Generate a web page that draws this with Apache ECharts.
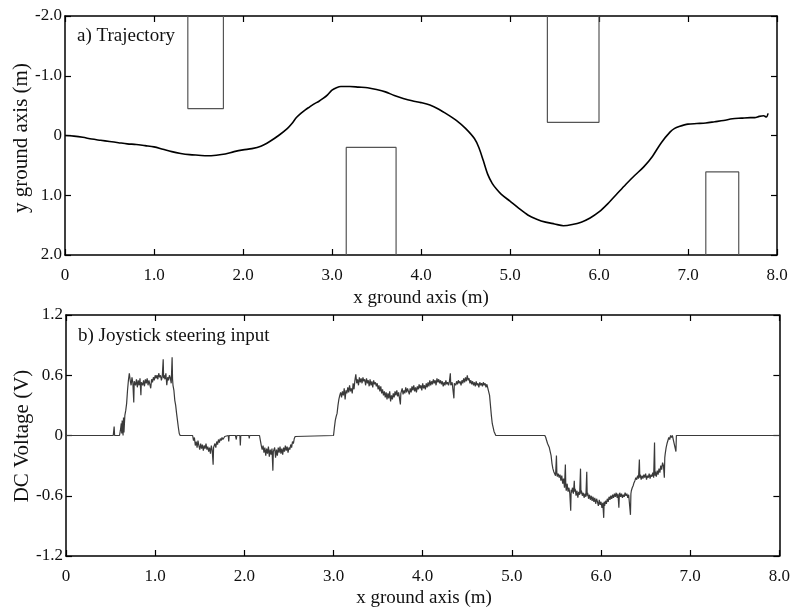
<!DOCTYPE html>
<html>
<head>
<meta charset="utf-8">
<script src="https://cdn.jsdelivr.net/npm/echarts@6/dist/echarts.min.js"></script>
<style>
  html, body { margin: 0; padding: 0; background: #fff; }
  #chart { width: 793px; height: 615px; }
</style>
</head>
<body>
<div id="chart"></div>
<script>
// ---- a) Trajectory: path of the vehicle over the ground (x, y in metres) ----
const trajX = [0, 0.1, 0.2, 0.3, 0.4, 0.5, 0.6, 0.7, 0.8, 0.9, 1.0, 1.1, 1.2, 1.3, 1.4, 1.5, 1.6, 1.7, 1.8, 1.9,
  2.0, 2.1, 2.2, 2.3, 2.4, 2.5, 2.55, 2.6, 2.65, 2.7, 2.75, 2.8, 2.85, 2.9, 2.95, 3.0, 3.05, 3.1, 3.2, 3.3,
  3.4, 3.5, 3.6, 3.7, 3.8, 3.9, 4.0, 4.1, 4.2, 4.3, 4.4, 4.5, 4.6, 4.65, 4.7, 4.75, 4.8, 4.85, 4.9, 5.0,
  5.1, 5.2, 5.3, 5.4, 5.5, 5.6, 5.7, 5.8, 5.9, 6.0, 6.1, 6.2, 6.3, 6.4, 6.5, 6.6, 6.7, 6.8, 6.85, 6.9,
  7.0, 7.1, 7.2, 7.3, 7.4, 7.5, 7.6, 7.7, 7.75, 7.8, 7.85, 7.88, 7.9];
const trajY = [0.0, 0.01, 0.03, 0.06, 0.08, 0.1, 0.12, 0.14, 0.15, 0.17, 0.19, 0.23, 0.27, 0.3, 0.32, 0.33, 0.34, 0.33, 0.31, 0.27,
  0.24, 0.22, 0.18, 0.1, 0.0, -0.12, -0.2, -0.3, -0.37, -0.43, -0.48, -0.53, -0.57, -0.62, -0.68, -0.76, -0.8, -0.82, -0.82, -0.81,
  -0.8, -0.77, -0.73, -0.67, -0.62, -0.58, -0.55, -0.51, -0.44, -0.35, -0.25, -0.12, 0.05, 0.2, 0.42, 0.65, 0.8, 0.9, 0.98, 1.1,
  1.22, 1.33, 1.4, 1.45, 1.48, 1.51, 1.49, 1.45, 1.38, 1.28, 1.14, 0.98, 0.82, 0.67, 0.53, 0.35, 0.12, -0.06, -0.12, -0.15,
  -0.19, -0.2, -0.21, -0.23, -0.25, -0.28, -0.29, -0.3, -0.3, -0.32, -0.33, -0.31, -0.37];

// Obstacles: x extent, and the y edge reaching into the track (each runs to the plot border)
const obstacleX0 = [1.38, 3.16, 5.42, 7.2];
const obstacleX1 = [1.78, 3.72, 6.0, 7.57];
const obstacleEdge = [-0.45, 0.2, -0.22, 0.61];
const obstacleSide = [-2, 2, -2, 2];

// ---- b) Joystick steering input (x in metres, DC voltage in volts) ----
const joystick = [
  [0, 0], [0.53, 0], [0.54, 0.09], [0.545, 0], [0.6, 0],
  [0.61, 0.05], [0.62, 0.12], [0.625, 0.02], [0.63, 0.15], [0.64, 0.0], [0.645, 0.18], [0.65, 0.03], [0.66, 0.2], [0.67, 0.25],
  [0.68, 0.32], [0.69, 0.45], [0.7, 0.55], [0.71, 0.62],
  [0.72, 0.55], [0.73, 0.5], [0.74, 0.58], [0.75, 0.52], [0.76, 0.33], [0.765, 0.54], [0.78, 0.5], [0.79, 0.56], [0.8, 0.48],
  [0.81, 0.55], [0.82, 0.5], [0.83, 0.57], [0.84, 0.4], [0.845, 0.53], [0.86, 0.5], [0.87, 0.55], [0.88, 0.49], [0.89, 0.56],
  [0.9, 0.52], [0.91, 0.57], [0.92, 0.5], [0.93, 0.55], [0.94, 0.51], [0.95, 0.47], [0.96, 0.56], [0.97, 0.53], [0.98, 0.58],
  [0.99, 0.55], [1.0, 0.6], [1.01, 0.57], [1.02, 0.6], [1.03, 0.56], [1.04, 0.62], [1.05, 0.58], [1.06, 0.6], [1.07, 0.55],
  [1.08, 0.59], [1.09, 0.76], [1.095, 0.57], [1.1, 0.6], [1.11, 0.56], [1.12, 0.62], [1.13, 0.5], [1.14, 0.58], [1.15, 0.55],
  [1.16, 0.6], [1.17, 0.57], [1.18, 0.52], [1.19, 0.78], [1.195, 0.56], [1.2, 0.5], [1.21, 0.45], [1.22, 0.35], [1.23, 0.3],
  [1.24, 0.22], [1.25, 0.15], [1.26, 0.08], [1.27, 0.02], [1.28, 0], [1.42, 0],
  [1.43, -0.05], [1.44, -0.02], [1.45, -0.1], [1.46, -0.06], [1.47, -0.12], [1.48, -0.05], [1.49, -0.1], [1.5, -0.14],
  [1.51, -0.08], [1.52, -0.13], [1.53, -0.09], [1.54, -0.15], [1.55, -0.1], [1.56, -0.13], [1.57, -0.08], [1.58, -0.14],
  [1.59, -0.11], [1.6, -0.16], [1.61, -0.12], [1.62, -0.18], [1.63, -0.1], [1.64, -0.15], [1.65, -0.29], [1.655, -0.12],
  [1.67, -0.08], [1.68, -0.12], [1.69, -0.06], [1.7, -0.09], [1.71, -0.04], [1.72, -0.07], [1.73, -0.03], [1.74, -0.05],
  [1.75, -0.02], [1.76, -0.04], [1.78, -0.01], [1.8, 0], [1.82, 0], [1.825, -0.06], [1.83, 0], [1.9, 0], [1.91, -0.04],
  [1.915, 0], [1.95, 0], [1.955, -0.1], [1.96, 0], [2.05, 0], [2.055, -0.03], [2.06, 0], [2.17, 0],
  [2.18, -0.05], [2.19, -0.1], [2.2, -0.14], [2.21, -0.1], [2.22, -0.17], [2.23, -0.12], [2.24, -0.2], [2.25, -0.13],
  [2.26, -0.18], [2.27, -0.11], [2.28, -0.21], [2.29, -0.14], [2.3, -0.19], [2.31, -0.13], [2.32, -0.35], [2.325, -0.16],
  [2.34, -0.12], [2.35, -0.22], [2.36, -0.14], [2.37, -0.2], [2.38, -0.12], [2.39, -0.17], [2.4, -0.11], [2.41, -0.18],
  [2.42, -0.13], [2.43, -0.19], [2.44, -0.12], [2.45, -0.16], [2.46, -0.1], [2.47, -0.15], [2.48, -0.11], [2.49, -0.17],
  [2.5, -0.12], [2.51, -0.14], [2.52, -0.09], [2.53, -0.12], [2.54, -0.06], [2.55, -0.08], [2.56, -0.03], [2.57, -0.01],
  [2.58, 0], [3.0, 0],
  [3.01, 0.08], [3.02, 0.15], [3.03, 0.19], [3.04, 0.22], [3.05, 0.3], [3.06, 0.36], [3.07, 0.4], [3.08, 0.43], [3.09, 0.38],
  [3.1, 0.44], [3.11, 0.4], [3.12, 0.47], [3.13, 0.36], [3.14, 0.45], [3.15, 0.42], [3.16, 0.48], [3.17, 0.43], [3.18, 0.5],
  [3.19, 0.44], [3.2, 0.47], [3.21, 0.42], [3.22, 0.52], [3.23, 0.46], [3.24, 0.55], [3.25, 0.61], [3.26, 0.52], [3.27, 0.56],
  [3.28, 0.5], [3.29, 0.58], [3.3, 0.53], [3.31, 0.57], [3.32, 0.52], [3.33, 0.58], [3.34, 0.54], [3.35, 0.56], [3.36, 0.5],
  [3.37, 0.57], [3.38, 0.52], [3.39, 0.55], [3.4, 0.49], [3.41, 0.56], [3.42, 0.5], [3.43, 0.54], [3.44, 0.48], [3.45, 0.55],
  [3.46, 0.51], [3.47, 0.53], [3.48, 0.49], [3.49, 0.52], [3.5, 0.46], [3.51, 0.5], [3.52, 0.44], [3.53, 0.49], [3.54, 0.42],
  [3.55, 0.46], [3.56, 0.4], [3.57, 0.44], [3.58, 0.38], [3.59, 0.43], [3.6, 0.36], [3.61, 0.42], [3.62, 0.37], [3.63, 0.44],
  [3.64, 0.34], [3.65, 0.4], [3.66, 0.36], [3.67, 0.42], [3.68, 0.38], [3.69, 0.44], [3.7, 0.4], [3.71, 0.45], [3.72, 0.39],
  [3.73, 0.43], [3.74, 0.37], [3.75, 0.31], [3.755, 0.42], [3.77, 0.47], [3.78, 0.41], [3.79, 0.45], [3.8, 0.42], [3.81, 0.48],
  [3.82, 0.43], [3.83, 0.47], [3.84, 0.44], [3.85, 0.41], [3.86, 0.47], [3.87, 0.43], [3.88, 0.49], [3.89, 0.45], [3.9, 0.5],
  [3.91, 0.44], [3.92, 0.48], [3.93, 0.43], [3.94, 0.49], [3.95, 0.46], [3.96, 0.51], [3.97, 0.47], [3.98, 0.5], [3.99, 0.45],
  [4.0, 0.52], [4.01, 0.47], [4.02, 0.5], [4.03, 0.46], [4.04, 0.52], [4.05, 0.48], [4.06, 0.53], [4.07, 0.49], [4.08, 0.55],
  [4.09, 0.5], [4.1, 0.54], [4.11, 0.51], [4.12, 0.56], [4.13, 0.52], [4.14, 0.55], [4.15, 0.5], [4.16, 0.57], [4.17, 0.53],
  [4.18, 0.56], [4.19, 0.52], [4.2, 0.55], [4.21, 0.51], [4.22, 0.54], [4.23, 0.49], [4.24, 0.53], [4.25, 0.5], [4.26, 0.55],
  [4.27, 0.51], [4.28, 0.53], [4.29, 0.5], [4.3, 0.54], [4.31, 0.62], [4.315, 0.5], [4.33, 0.53], [4.35, 0.37], [4.355, 0.52],
  [4.37, 0.5], [4.38, 0.54], [4.39, 0.51], [4.4, 0.55], [4.41, 0.52], [4.42, 0.54], [4.43, 0.5], [4.44, 0.55], [4.45, 0.52],
  [4.46, 0.57], [4.47, 0.53], [4.48, 0.58], [4.49, 0.54], [4.5, 0.6], [4.51, 0.55], [4.52, 0.57], [4.53, 0.52], [4.54, 0.55],
  [4.55, 0.51], [4.56, 0.54], [4.57, 0.5], [4.58, 0.53], [4.59, 0.49], [4.6, 0.54], [4.61, 0.5], [4.62, 0.52], [4.63, 0.48],
  [4.64, 0.53], [4.65, 0.5], [4.66, 0.52], [4.67, 0.49], [4.68, 0.53], [4.69, 0.5], [4.7, 0.52], [4.71, 0.48], [4.72, 0.51],
  [4.73, 0.5], [4.74, 0.52], [4.75, 0.4], [4.76, 0.3], [4.77, 0.2], [4.78, 0.12], [4.79, 0.08], [4.8, 0.04], [4.82, 0],
  [5.37, 0],
  [5.38, -0.02], [5.39, -0.05], [5.4, -0.08], [5.41, -0.07], [5.42, -0.12], [5.43, -0.16], [5.44, -0.2], [5.45, -0.28],
  [5.46, -0.33], [5.47, -0.36], [5.48, -0.35], [5.49, -0.4], [5.5, -0.2], [5.505, -0.38], [5.51, -0.41], [5.52, -0.38],
  [5.53, -0.42], [5.54, -0.39], [5.55, -0.45], [5.56, -0.4], [5.57, -0.48], [5.58, -0.43], [5.59, -0.52], [5.6, -0.29],
  [5.605, -0.5], [5.61, -0.55], [5.62, -0.48], [5.63, -0.56], [5.64, -0.52], [5.65, -0.58], [5.66, -0.75], [5.665, -0.54],
  [5.67, -0.57], [5.68, -0.52], [5.69, -0.58], [5.7, -0.45], [5.705, -0.56], [5.71, -0.53], [5.72, -0.6], [5.73, -0.55],
  [5.74, -0.62], [5.75, -0.56], [5.76, -0.59], [5.77, -0.33], [5.775, -0.58], [5.78, -0.55], [5.79, -0.6], [5.8, -0.57],
  [5.81, -0.62], [5.82, -0.58], [5.83, -0.61], [5.84, -0.36], [5.845, -0.6], [5.85, -0.57], [5.86, -0.63], [5.87, -0.59],
  [5.88, -0.64], [5.89, -0.6], [5.9, -0.65], [5.91, -0.61], [5.92, -0.66], [5.93, -0.62], [5.94, -0.68], [5.95, -0.63],
  [5.96, -0.66], [5.97, -0.7], [5.98, -0.64], [5.99, -0.69], [6.0, -0.66], [6.01, -0.72], [6.02, -0.67], [6.03, -0.82],
  [6.035, -0.66], [6.04, -0.7], [6.05, -0.65], [6.06, -0.68], [6.07, -0.63], [6.08, -0.66], [6.09, -0.61], [6.1, -0.64],
  [6.11, -0.6], [6.12, -0.63], [6.13, -0.59], [6.14, -0.62], [6.15, -0.58], [6.16, -0.61], [6.17, -0.57], [6.18, -0.62],
  [6.19, -0.58], [6.2, -0.72], [6.205, -0.6], [6.21, -0.57], [6.22, -0.61], [6.23, -0.58], [6.24, -0.62], [6.25, -0.59],
  [6.26, -0.61], [6.27, -0.57], [6.28, -0.6], [6.29, -0.58], [6.3, -0.62], [6.31, -0.59], [6.32, -0.6], [6.33, -0.79],
  [6.335, -0.58], [6.34, -0.55], [6.35, -0.52], [6.36, -0.5], [6.37, -0.47], [6.38, -0.45], [6.39, -0.42], [6.4, -0.44],
  [6.41, -0.4], [6.42, -0.43], [6.43, -0.24], [6.435, -0.42], [6.44, -0.39], [6.45, -0.44], [6.46, -0.4], [6.47, -0.43],
  [6.48, -0.39], [6.49, -0.42], [6.5, -0.38], [6.51, -0.44], [6.52, -0.4], [6.53, -0.42], [6.54, -0.38], [6.55, -0.43],
  [6.56, -0.39], [6.57, -0.41], [6.58, -0.37], [6.59, -0.42], [6.6, -0.07], [6.605, -0.4], [6.61, -0.36], [6.62, -0.41],
  [6.63, -0.35], [6.64, -0.39], [6.65, -0.33], [6.66, -0.37], [6.67, -0.3], [6.68, -0.34], [6.69, -0.27], [6.7, -0.3],
  [6.71, -0.42], [6.715, -0.22], [6.72, -0.18], [6.73, -0.12], [6.74, -0.08], [6.75, -0.05], [6.76, -0.02], [6.77, -0.04],
  [6.78, 0], [6.79, -0.02], [6.8, 0], [6.82, 0], [6.84, -0.16], [6.845, 0], [8.0, 0]
];

// Axis ranges and tick spacing
const xRange = [0, 8];
const xStep = 1;
const trajRange = [-2, 2];
const trajStep = 1;
const voltRange = [-1.2, 1.2];
const voltStep = 0.6;

const FONT = '"Liberation Serif", "Times New Roman", serif';
const INK = '#000';

function fmt(v) {
  if (Math.abs(v) < 1e-9) return '0';
  return (Math.round(v * 10) / 10).toFixed(1);
}

function axisBase(show) {
  return {
    axisLine: { show: true, onZero: false, lineStyle: { color: INK, width: 1.5 } },
    axisTick: { show: true, inside: true, length: 6, lineStyle: { color: INK, width: 1.2 } },
    axisLabel: show
      ? { show: true, color: '#111', fontFamily: FONT, fontSize: 17, formatter: fmt, showMinLabel: true, showMaxLabel: true }
      : { show: false },
    splitLine: { show: false }
  };
}

function xAxisFor(grid, pos, show, margin) {
  const a = Object.assign({ type: 'value', gridIndex: grid, position: pos, min: xRange[0], max: xRange[1], interval: xStep }, axisBase(show));
  if (show) a.axisLabel.margin = margin;
  return a;
}

function yAxisFor(grid, pos, show, range, step, inverse) {
  const a = Object.assign({ type: 'value', gridIndex: grid, position: pos, min: range[0], max: range[1], interval: step, inverse: inverse }, axisBase(show));
  if (show) a.axisLabel.margin = 3;
  return a;
}

const obstacleSeries = obstacleX0.map((x0, i) => ({
  type: 'line',
  xAxisIndex: 0,
  yAxisIndex: 0,
  data: [[x0, obstacleSide[i]], [x0, obstacleEdge[i]], [obstacleX1[i], obstacleEdge[i]], [obstacleX1[i], obstacleSide[i]]],
  showSymbol: false,
  silent: true,
  lineStyle: { color: '#555', width: 1.2 },
  z: 2
}));

const option = {
  backgroundColor: '#fff',
  animation: false,
  grid: [
    { left: 65, top: 16, right: 16, height: 239 },
    { left: 66, top: 315, right: 11, height: 241 }
  ],
  xAxis: [
    xAxisFor(0, 'bottom', true, 12),
    xAxisFor(0, 'top', false),
    xAxisFor(1, 'bottom', true, 12),
    xAxisFor(1, 'top', false)
  ],
  yAxis: [
    yAxisFor(0, 'left', true, trajRange, trajStep, true),
    yAxisFor(0, 'right', false, trajRange, trajStep, true),
    yAxisFor(1, 'left', true, voltRange, voltStep, false),
    yAxisFor(1, 'right', false, voltRange, voltStep, false)
  ],
  series: obstacleSeries.concat([
    {
      type: 'line',
      xAxisIndex: 0,
      yAxisIndex: 0,
      data: trajX.map((x, i) => [x, trajY[i]]),
      showSymbol: false,
      smooth: 0.3,
      lineStyle: { color: '#000', width: 1.6 },
      z: 3
    },
    {
      type: 'line',
      xAxisIndex: 2,
      yAxisIndex: 2,
      data: joystick,
      showSymbol: false,
      lineStyle: { color: '#3a3a3a', width: 1.2 },
      z: 3
    }
  ]),
  graphic: [
    { type: 'text', left: 77, top: 27, style: { text: 'a) Trajectory', font: '19px ' + FONT, fill: '#111' } },
    { type: 'text', left: 78, top: 327, style: { text: 'b) Joystick steering input', font: '19px ' + FONT, fill: '#111' } },
    { type: 'text', x: 421, y: 298, style: { text: 'x ground axis (m)', font: '19px ' + FONT, fill: '#111', align: 'center', verticalAlign: 'middle' } },
    { type: 'text', x: 424, y: 598, style: { text: 'x ground axis (m)', font: '19px ' + FONT, fill: '#111', align: 'center', verticalAlign: 'middle' } },
    { type: 'text', x: 21, y: 138, rotation: Math.PI / 2, style: { text: 'y ground axis (m)', font: '21px ' + FONT, fill: '#111', align: 'center', verticalAlign: 'middle' } },
    { type: 'text', x: 22, y: 436, rotation: Math.PI / 2, style: { text: 'DC Voltage (V)', font: '21px ' + FONT, fill: '#111', align: 'center', verticalAlign: 'middle' } }
  ]
};

const chart = echarts.init(document.getElementById('chart'), null, { renderer: 'canvas' });
chart.setOption(option);
</script>
</body>
</html>
